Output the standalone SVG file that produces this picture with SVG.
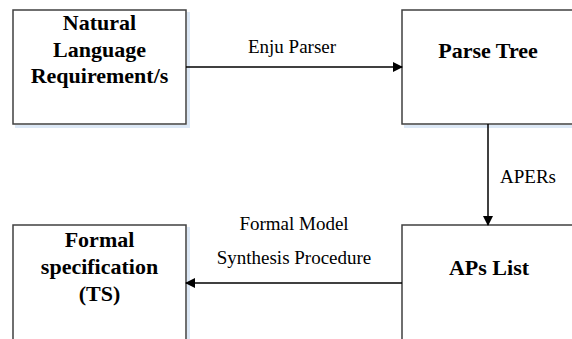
<svg xmlns="http://www.w3.org/2000/svg" width="572" height="339" viewBox="0 0 572 339">
<defs>
<marker id="ah" markerWidth="10" markerHeight="10" refX="9" refY="5" orient="auto" markerUnits="userSpaceOnUse">
<path d="M0,0 L10,5 L0,10 Z" fill="#000"/>
</marker>
</defs>
<style>
.box{fill:#fff;stroke:#404040;stroke-width:1.5}
.sh{fill:none;stroke:#dce8f6;stroke-width:3}
.t{font-family:"Liberation Serif","Times New Roman",serif;font-size:22px;font-weight:bold;fill:#000;text-anchor:middle}
.l{font-family:"Liberation Serif","Times New Roman",serif;font-size:19px;fill:#000}
.c{stroke:#000;stroke-width:1.5;fill:none}
</style>
<rect width="572" height="339" fill="#fff"/>
<g id="n1">
<path class="sh" d="M15,126.5 H188.5 V12"/>
<rect class="box" x="13" y="10" width="173" height="114"/>
<text class="t" x="99.5" y="30">Natural</text>
<text class="t" x="99.5" y="56.5">Language</text>
<text class="t" x="99.5" y="83">Requirement/s</text>
</g>
<g id="n2">
<path class="sh" d="M404,126.5 H574"/>
<rect class="box" x="402" y="10" width="180" height="114"/>
<text class="t" x="488" y="58">Parse Tree</text>
</g>
<g id="n3">
<path class="sh" d="M188.5,227 V345"/>
<rect class="box" x="13" y="225" width="173" height="130"/>
<text class="t" x="99.5" y="247">Formal</text>
<text class="t" x="99.5" y="273.5">specification</text>
<text class="t" x="99.5" y="301">(TS)</text>
</g>
<g id="n4">
<rect class="box" x="402" y="225" width="180" height="130"/>
<text class="t" x="489" y="275">APs List</text>
</g>
<g id="connectors">
<line class="c" x1="186" y1="67" x2="402" y2="67" marker-end="url(#ah)"/>
<text class="l" x="292" y="53" text-anchor="middle">Enju Parser</text>
<line class="c" x1="488" y1="124" x2="488" y2="225" marker-end="url(#ah)"/>
<text class="l" x="500" y="183">APERs</text>
<line class="c" x1="402" y1="283" x2="186" y2="283" marker-end="url(#ah)"/>
<text class="l" x="294" y="230" text-anchor="middle">Formal Model</text>
<text class="l" x="294" y="264" text-anchor="middle">Synthesis Procedure</text>
</g>
</svg>
